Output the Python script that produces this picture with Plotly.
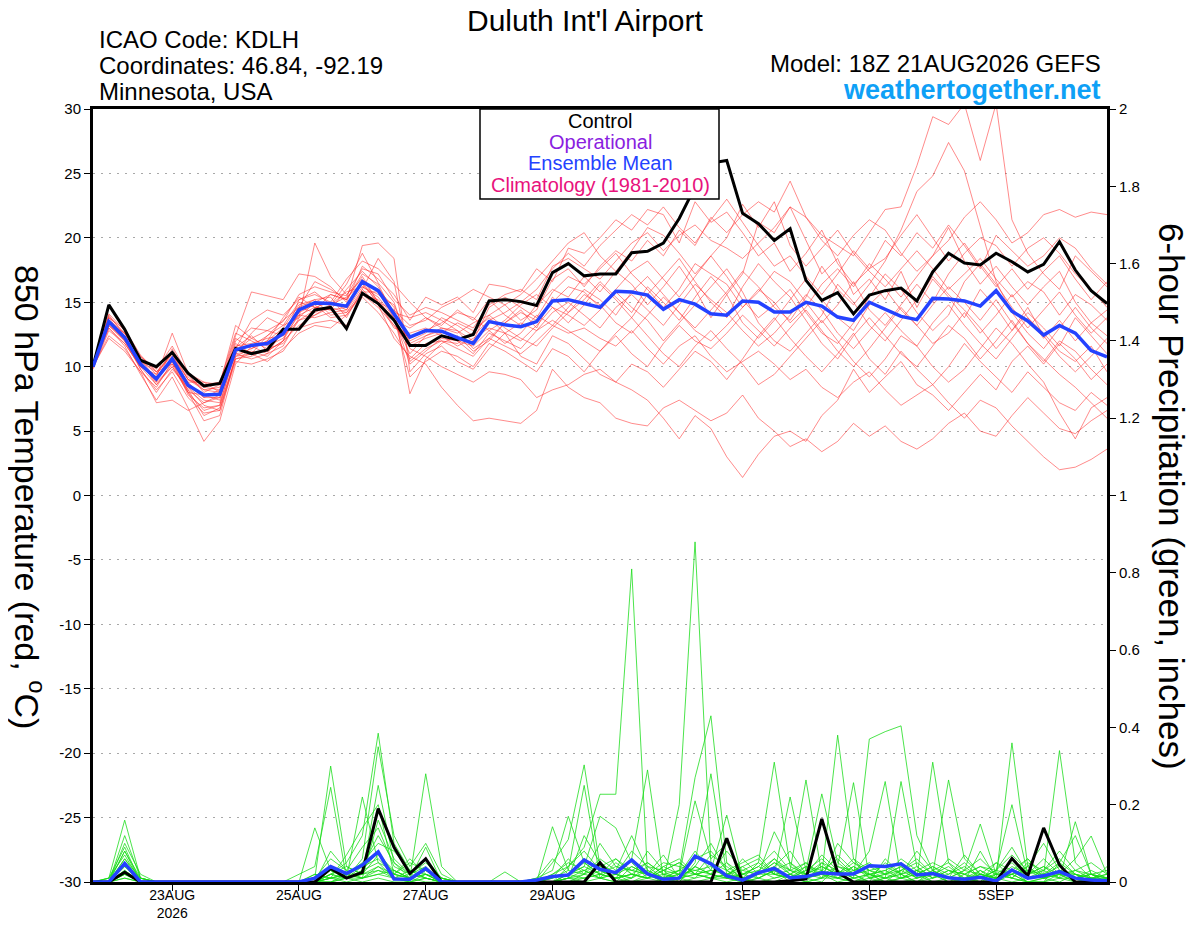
import pandas as pd
import plotly.graph_objects as go

FONT = "Liberation Sans"

# GEFS run 18Z 21AUG2026, 6-hourly steps out to 384 h
run_start = "2026-08-21 18:00"

# 850 hPa temperature (deg C)
mean_temp = [10.0, 13.5, 12.25, 10.2, 9.05, 10.6, 8.55, 7.8, 7.85, 11.3,
             11.65, 11.8, 12.55, 14.4, 14.95, 14.9, 14.7, 16.6, 15.9, 14.1,
             12.3, 12.8, 12.75, 12.25, 11.8, 13.5, 13.25, 13.1, 13.5, 15.1,
             15.2, 14.9, 14.6, 15.85, 15.8, 15.55, 14.45, 15.2, 14.85, 14.1,
             14.0, 15.1, 15.0, 14.25, 14.25, 15.0, 14.7, 13.85, 13.6, 15.0,
             14.45, 13.9, 13.65, 15.3, 15.25, 15.1, 14.7, 15.9, 14.3, 13.55,
             12.45, 13.2, 12.6, 11.25, 10.75]
ctrl_temp = [10.0, 14.8, 12.9, 10.5, 10.0, 11.1, 9.5, 8.5, 8.7, 11.4,
             11.0, 11.3, 12.9, 12.9, 14.4, 14.6, 12.95, 15.7, 14.9, 13.6,
             11.65, 11.65, 12.4, 12.1, 12.5, 15.1, 15.2, 15.05, 14.75, 17.3,
             18.0, 17.05, 17.2, 17.2, 18.85, 18.95, 19.6, 21.5, 23.95, 25.8,
             26.0, 21.9, 21.1, 19.8, 20.7, 16.7, 15.15, 15.75, 14.1, 15.55,
             15.9, 16.1, 15.1, 17.35, 18.8, 18.05, 17.9, 18.8, 18.15, 17.35,
             17.95, 19.7, 17.5, 15.9, 14.9]

t01 = [10, 13.9, 12.6, 10.6, 9.4, 11.2, 9.0, 8.4, 8.2, 12.0,
       13.0, 12.8, 13.5, 15.6, 16.2, 15.8, 15.5, 17.6, 17.2, 15.2,
       14.0, 14.6, 14.2, 13.6, 13.0, 14.8, 15.6, 16.0, 15.2, 17.8,
       18.4, 17.6, 16.8, 18.2, 19.6, 20.4, 19.0, 20.2, 21.0, 19.8,
       19.2, 18.4, 19.6, 20.8, 22.4, 21.6, 20.2, 19.4, 18.6, 20.4,
       22.2, 22.4, 25.6, 29.4, 28.8, 30.4, 26.0, 30.4, 21.4, 18.8,
       17.2, 16.0, 18.6, 17.4, 16.2]
t02 = [10, 13.2, 12.0, 9.8, 8.2, 9.6, 7.6, 6.4, 6.6, 10.4,
       10.2, 10.6, 11.2, 13.0, 13.4, 13.6, 13.2, 15.4, 14.2, 12.6,
       10.6, 11.8, 12.0, 11.4, 10.8, 12.2, 11.6, 11.0, 12.0, 13.2,
       12.6, 13.0, 12.2, 11.6, 12.8, 11.4, 10.2, 11.6, 12.4, 10.8,
       9.6, 10.4, 11.2, 10.2, 9.0, 9.8, 8.4, 7.6, 8.8, 9.6,
       8.2, 7.0, 7.8, 8.6, 7.2, 6.0, 7.4, 6.8, 5.4, 4.2,
       3.0, 2.0, 2.2, 2.8, 3.6]
t03 = [9.8, 12.8, 11.8, 10.0, 9.2, 12.6, 9.5, 8.8, 8.0, 11.5,
       12.4, 11.2, 12.0, 15.2, 15.8, 14.8, 16.4, 18.8, 16.5, 15.0,
       11.4, 10.8, 10.0, 9.4, 8.8, 9.6, 9.4, 9.0, 7.6, 8.2,
       8.6, 9.4, 9.8, 8.8, 8.2, 7.4, 6.0, 4.4, 6.2, 5.2,
       3.0, 1.4, 3.2, 4.6, 5.0, 4.2, 6.2, 7.4, 9.8, 8.0,
       9.2, 10.4, 8.6, 7.8, 6.6, 8.0, 9.4, 8.2, 10.4, 11.6,
       10.2, 11.8, 10.6, 9.0, 10.2]
t04 = [10.2, 14.1, 12.8, 10.4, 8.6, 10.0, 8.0, 5.8, 6.2, 10.8,
       11.0, 12.4, 13.6, 14.6, 15.2, 15.4, 13.8, 16.0, 14.8, 12.2,
       10.8, 10.2, 8.4, 7.0, 5.8, 6.0, 5.8, 5.6, 6.6, 9.8,
       8.4, 7.6, 7.2, 6.0, 5.6, 5.4, 6.8, 7.4, 6.6, 5.8,
       6.4, 7.8, 6.0, 5.0, 3.8, 4.4, 3.4, 4.2, 5.6, 4.6,
       5.4, 4.2, 3.6, 4.4, 5.6, 6.4, 5.0, 4.6, 6.2, 7.6,
       6.4, 5.2, 4.8, 5.8, 6.6]
t05 = [10, 13.6, 12.4, 10.8, 9.8, 11.6, 9.4, 8.0, 8.6, 12.4,
       15.8, 15.5, 15.2, 17.2, 17.0, 16.2, 15.0, 17.8, 16.8, 15.6,
       13.6, 15.4, 14.8, 15.4, 14.2, 16.4, 16.2, 15.8, 17.6, 16.6,
       19.2, 18.8, 20.0, 21.4, 20.6, 22.2, 21.8, 19.6, 22.8, 21.2,
       22.0, 20.4, 18.6, 19.6, 17.4, 18.8, 20.6, 18.0, 16.4, 17.6,
       19.8, 18.6, 20.4, 19.2, 21.0, 19.4, 17.6, 20.2, 19.0, 17.8,
       18.6, 20.0, 19.2, 17.6, 16.4]
t06 = [9.9, 13.0, 11.6, 9.4, 7.4, 9.2, 6.8, 4.2, 5.8, 10.2,
       11.6, 11.0, 12.8, 14.0, 14.6, 15.0, 16.8, 18.2, 17.6, 16.4,
       15.0, 13.8, 13.2, 14.4, 13.6, 15.2, 14.0, 13.2, 14.8, 16.0,
       15.4, 17.0, 15.8, 17.4, 16.4, 14.8, 16.2, 17.8, 16.0, 13.8,
       15.6, 17.2, 21.2, 20.4, 22.4, 19.8, 17.2, 18.4, 15.6, 16.8,
       15.2, 17.4, 14.6, 16.8, 15.4, 13.8, 16.0, 14.6, 12.8, 14.2,
       13.0, 11.6, 13.8, 12.4, 11.0]
t07 = [10.1, 13.4, 12.2, 10.2, 9.0, 10.8, 8.4, 7.4, 7.2, 11.0,
       12.6, 13.8, 13.2, 13.8, 19.6, 17.0, 15.6, 16.8, 15.0, 13.0,
       12.6, 13.0, 12.4, 11.6, 12.2, 13.0, 12.6, 12.0, 13.2, 14.6,
       14.0, 13.2, 14.4, 15.8, 14.6, 13.6, 12.0, 13.4, 14.8, 16.2,
       17.6, 15.8, 13.4, 12.0, 11.2, 12.6, 14.0, 16.4, 15.0, 13.2,
       12.0, 13.6, 15.2, 17.0, 15.6, 14.4, 13.0, 11.4, 12.8, 14.6,
       12.4, 10.8, 9.6, 10.8, 12.2]
t08 = [10, 13.8, 12.9, 10.9, 9.6, 10.2, 8.8, 8.8, 8.6, 13.2,
       12.2, 11.6, 12.2, 14.0, 13.8, 14.2, 14.4, 16.2, 15.6, 14.8,
       11.8, 12.4, 13.0, 12.8, 11.4, 12.2, 13.4, 14.2, 13.6, 15.0,
       16.2, 15.8, 14.6, 16.0, 17.4, 18.2, 16.8, 15.4, 17.0, 18.6,
       17.0, 15.2, 13.8, 14.8, 16.0, 14.2, 12.6, 11.8, 13.4, 15.4,
       17.2, 16.0, 14.2, 12.8, 14.0, 16.6, 18.0, 16.4, 14.6, 13.0,
       14.4, 15.8, 14.0, 12.6, 13.8]
t09 = [10, 12.4, 11.4, 9.6, 8.4, 10.4, 7.8, 6.8, 7.0, 10.6,
       10.8, 11.4, 11.8, 13.6, 14.4, 15.6, 15.2, 19.4, 19.6, 18.4,
       9.6, 11.0, 11.6, 10.4, 9.8, 11.4, 12.6, 10.8, 10.2, 12.4,
       11.8, 10.6, 9.4, 8.8, 10.2, 9.6, 8.4, 9.8, 11.2, 10.4,
       9.0, 10.6, 12.4, 13.8, 12.2, 10.8, 9.6, 11.0, 12.6, 10.6,
       9.4, 11.2, 9.8, 8.6, 10.0, 11.8, 10.4, 9.2, 8.0, 9.6,
       8.4, 7.2, 6.6, 8.0, 7.0]
t10 = [10, 13.2, 12.0, 10.4, 9.6, 11.0, 8.6, 7.6, 8.2, 11.8,
       11.0, 10.4, 11.4, 12.6, 13.2, 13.0, 14.0, 15.6, 14.6, 13.2,
       12.2, 12.8, 13.4, 14.2, 13.8, 12.8, 13.6, 14.8, 15.6, 14.6,
       13.4, 14.8, 16.4, 15.2, 13.8, 15.6, 17.0, 18.4, 16.6, 15.0,
       13.8, 16.2, 18.0, 16.6, 15.4, 13.6, 11.8, 10.6, 12.4, 13.8,
       12.4, 11.0, 10.0, 11.6, 13.2, 12.2, 10.6, 12.0, 13.6, 11.8,
       10.4, 12.0, 11.2, 9.8, 8.6]
t11 = [10, 13.6, 12.6, 10.6, 9.0, 10.4, 8.2, 7.2, 7.6, 11.2,
       12.2, 12.8, 12.4, 14.6, 16.6, 16.0, 15.2, 17.0, 15.0, 14.4,
       13.2, 13.6, 14.6, 15.2, 16.0, 15.4, 14.8, 15.6, 16.8, 18.2,
       19.6, 20.4, 18.6, 17.4, 19.0, 20.8, 20.2, 18.8, 17.2, 18.6,
       20.0, 22.6, 20.8, 22.8, 19.4, 17.8, 19.2, 20.6, 18.8, 17.4,
       16.2, 17.6, 19.0, 17.6, 16.0, 17.2, 18.4, 16.8, 15.4, 16.6,
       15.8, 14.0, 15.6, 14.8, 13.6]
t12 = [10, 14.0, 12.4, 9.8, 8.0, 9.8, 8.4, 7.0, 6.6, 10.8,
       11.4, 12.0, 13.0, 14.8, 15.2, 14.0, 14.2, 16.0, 18.4, 16.6,
       10.4, 11.4, 12.0, 11.8, 12.6, 14.0, 13.0, 12.2, 11.6, 13.0,
       14.2, 15.6, 14.8, 13.4, 12.6, 14.0, 15.4, 14.2, 12.8, 12.0,
       13.2, 14.6, 16.0, 15.0, 13.4, 14.6, 16.4, 17.6, 16.2, 18.0,
       16.8, 15.4, 17.0, 18.6, 20.8, 18.2, 16.4, 17.8, 16.2, 14.8,
       16.2, 17.4, 15.0, 13.4, 14.4]
t13 = [10, 13.0, 11.8, 10.0, 9.2, 10.6, 8.0, 7.8, 7.4, 11.6,
       11.8, 12.2, 12.4, 13.6, 14.0, 14.6, 14.2, 15.6, 15.2, 13.6,
       11.0, 12.4, 12.8, 12.0, 11.0, 12.6, 12.0, 11.4, 12.8, 13.6,
       12.8, 12.0, 11.2, 12.6, 13.8, 12.4, 11.0, 10.0, 11.6, 12.8,
       11.4, 10.2, 8.6, 9.4, 10.8, 12.2, 13.6, 12.0, 10.4, 9.2,
       10.6, 12.4, 11.6, 10.0, 8.8, 9.8, 11.4, 13.0, 11.8, 10.2,
       8.8, 6.4, 4.4, 6.8, 7.6]
t14 = [10, 13.8, 12.2, 10.4, 8.8, 11.4, 9.2, 8.2, 8.4, 12.2,
       11.4, 12.0, 13.8, 15.4, 14.6, 14.4, 16.0, 17.4, 16.2, 14.2,
       13.8, 14.2, 13.6, 12.8, 12.0, 14.6, 15.4, 14.6, 13.8, 15.8,
       17.0, 16.4, 17.6, 18.8, 17.2, 16.0, 14.6, 16.0, 18.0, 17.2,
       16.4, 14.6, 15.8, 17.4, 16.6, 15.0, 13.4, 14.8, 16.6, 14.4,
       13.2, 14.8, 16.4, 15.0, 17.2, 18.8, 20.0, 19.4, 17.8, 19.2,
       20.0, 18.8, 17.2, 16.0, 14.6]
t15 = [10, 12.2, 11.2, 9.6, 7.2, 7.4, 6.6, 7.2, 7.8, 11.0,
       11.2, 10.8, 12.0, 13.2, 14.0, 14.8, 15.8, 16.2, 15.4, 13.8,
       9.2, 10.4, 11.2, 10.8, 10.0, 11.8, 11.2, 10.4, 9.6, 11.4,
       10.8, 9.6, 11.2, 12.4, 11.0, 10.0, 11.8, 13.2, 12.0, 11.4,
       12.6, 14.0, 12.8, 11.6, 13.0, 14.4, 12.8, 11.2, 10.0, 11.4,
       13.0, 14.6, 13.2, 11.8, 12.6, 14.2, 12.6, 14.0, 15.6, 13.8,
       12.2, 13.6, 12.0, 13.4, 12.4]
t16 = [10, 13.4, 12.0, 10.0, 8.6, 10.2, 8.0, 6.6, 7.0, 11.4,
       13.6, 14.4, 14.0, 15.2, 15.6, 15.0, 14.4, 16.6, 14.8, 13.6,
       13.0, 13.8, 13.0, 12.6, 13.4, 14.0, 14.8, 13.6, 14.4, 16.8,
       17.6, 16.2, 17.8, 19.0, 18.2, 19.8, 18.6, 20.6, 19.4, 21.6,
       20.4, 21.8, 22.8, 22.0, 24.4, 21.6, 19.8, 18.6, 20.2, 21.4,
       20.6, 18.8, 17.4, 18.6, 19.8, 21.6, 22.8, 21.4, 19.6, 20.4,
       21.8, 22.2, 21.6, 22.0, 21.8]
t17 = [10, 13.6, 12.2, 10.0, 9.4, 11.0, 9.0, 8.2, 8.0, 11.0,
       10.6, 11.0, 11.6, 13.8, 15.0, 15.6, 15.2, 17.2, 16.4, 14.0,
       12.0, 12.6, 13.8, 13.2, 12.4, 13.6, 14.2, 15.0, 16.0, 17.6,
       18.8, 17.8, 19.4, 20.6, 21.8, 21.0, 22.4, 20.8, 19.6, 21.4,
       23.0, 21.2, 19.4, 17.8, 18.6, 17.0, 15.6, 17.2, 19.0, 17.6,
       18.4, 20.2, 21.8, 20.0, 18.2, 19.6, 17.8, 16.2, 17.6, 16.0,
       17.4, 18.6, 16.8, 15.2, 16.6]
t18 = [10, 13.2, 12.2, 10.2, 8.8, 10.0, 8.2, 6.2, 6.8, 10.6,
       11.0, 11.2, 12.0, 14.2, 14.8, 13.8, 14.0, 15.8, 15.8, 13.8,
       10.2, 11.2, 12.2, 12.0, 11.6, 12.8, 11.8, 12.6, 14.0, 13.2,
       14.6, 16.0, 15.2, 14.0, 15.8, 17.0, 15.6, 14.2, 13.0, 14.4,
       15.8, 17.4, 16.2, 14.6, 13.6, 15.4, 17.8, 16.0, 14.8, 16.4,
       18.2, 20.6, 23.6, 24.8, 27.4, 25.2, 21.0, 16.6, 14.2, 12.6,
       11.4, 13.0, 14.6, 13.0, 11.8]
t19 = [10, 13.4, 12.6, 10.8, 9.6, 10.8, 9.0, 8.6, 8.8, 12.6,
       12.0, 11.4, 12.6, 14.6, 14.2, 14.8, 15.4, 16.4, 15.0, 13.2,
       11.6, 12.2, 12.6, 13.4, 12.8, 13.8, 12.6, 13.4, 12.8, 14.2,
       15.0, 14.0, 13.0, 14.6, 15.6, 14.4, 13.2, 14.8, 16.4, 15.2,
       14.2, 12.8, 11.6, 12.6, 14.0, 15.6, 14.4, 12.6, 11.4, 12.8,
       14.2, 12.8, 11.6, 13.4, 14.8, 13.2, 11.8, 10.6, 12.2, 13.8,
       12.6, 11.2, 10.4, 11.6, 9.6]
t20 = [10, 13.6, 12.4, 10.2, 9.2, 10.6, 8.8, 7.6, 7.6, 11.4,
       11.6, 12.4, 13.2, 15.0, 14.6, 14.4, 14.6, 16.6, 16.0, 14.6,
       7.9, 10.6, 11.8, 12.4, 11.2, 12.0, 13.4, 14.4, 13.0, 15.4,
       14.2, 15.2, 16.6, 15.4, 14.2, 16.2, 15.0, 13.6, 15.4, 17.0,
       15.6, 13.4, 12.2, 13.6, 15.2, 16.8, 15.2, 13.8, 12.8, 14.8,
       16.0, 14.4, 13.2, 14.8, 16.2, 15.0, 13.6, 15.2, 13.4, 11.8,
       10.6, 9.4, 8.4, 7.2, 6.0]

# 6-hour precipitation (inches)
mean_precip = [0, 0, 0.048, 0, 0, 0, 0, 0, 0, 0,
               0, 0, 0, 0, 0.01, 0.04, 0.022, 0.044, 0.078, 0.008,
               0.007, 0.035, 0, 0, 0, 0, 0, 0, 0.005, 0.014,
               0.018, 0.057, 0.033, 0.024, 0.057, 0.021, 0.007, 0.01, 0.067, 0.047,
               0.016, 0.005, 0.024, 0.035, 0.011, 0.014, 0.024, 0.021, 0.021, 0.042,
               0.04, 0.047, 0.018, 0.022, 0.011, 0.007, 0.012, 0.003, 0.031, 0.01,
               0.016, 0.027, 0.01, 0.005, 0.003]
ctrl_precip = [0, 0, 0.025, 0, 0, 0, 0, 0, 0, 0,
               0, 0, 0, 0, 0, 0.035, 0.01, 0.025, 0.19, 0.09,
               0.022, 0.06, 0, 0, 0, 0, 0, 0, 0, 0,
               0, 0, 0.05, 0, 0, 0, 0, 0, 0, 0,
               0.113, 0, 0, 0, 0.003, 0.008, 0.163, 0.024, 0, 0,
               0, 0, 0, 0, 0, 0, 0, 0, 0.061, 0.016,
               0.14, 0.044, 0, 0, 0]

p01 = [0, 0.01, 0.16, 0.01, 0, 0, 0, 0, 0, 0,
       0, 0, 0, 0, 0.01, 0.06, 0.03, 0.09, 0.14, 0.04,
       0.02, 0.06, 0.01, 0, 0, 0, 0, 0, 0, 0.02,
       0.05, 0.03, 0.01, 0, 0.04, 0.02, 0, 0.2, 0.88, 0.05,
       0.01, 0, 0.03, 0.06, 0.02, 0, 0.05, 0.01, 0, 0.02,
       0, 0.01, 0.03, 0, 0, 0.02, 0, 0.05, 0.01, 0,
       0, 0.02, 0, 0, 0.01]
p02 = [0, 0, 0.12, 0.01, 0, 0, 0, 0, 0, 0,
       0, 0, 0, 0, 0, 0.02, 0.05, 0.12, 0.385, 0.1,
       0.03, 0.02, 0, 0, 0, 0, 0, 0, 0, 0,
       0.04, 0.09, 0.227, 0.227, 0.81, 0.02, 0, 0, 0.04, 0.1,
       0.03, 0, 0.02, 0.13, 0.05, 0.01, 0, 0.04, 0.02, 0,
       0.06, 0.02, 0, 0.03, 0, 0, 0.08, 0.01, 0.03, 0,
       0, 0.05, 0.02, 0, 0]
p03 = [0, 0, 0.1, 0.02, 0, 0, 0, 0, 0, 0,
       0, 0, 0, 0, 0.14, 0.03, 0.01, 0.06, 0.35, 0.12,
       0.04, 0.1, 0.02, 0, 0, 0, 0, 0, 0.01, 0.03,
       0.17, 0.05, 0.02, 0.01, 0.06, 0.29, 0.01, 0.03, 0.27, 0.43,
       0.05, 0, 0.01, 0.03, 0.01, 0.04, 0.02, 0.38, 0.06, 0.01,
       0, 0.03, 0.06, 0.02, 0, 0, 0.03, 0, 0.02, 0.06,
       0.02, 0.34, 0.05, 0.01, 0]
p04 = [0, 0.01, 0.09, 0, 0, 0, 0, 0, 0, 0,
       0, 0, 0, 0, 0.01, 0.3, 0.04, 0.02, 0.25, 0.05,
       0.01, 0.28, 0.04, 0, 0, 0, 0, 0, 0, 0.05,
       0.11, 0.303, 0.04, 0.02, 0.01, 0.08, 0.03, 0, 0.05, 0.28,
       0.02, 0.01, 0.05, 0.31, 0.04, 0.02, 0.07, 0.03, 0.01, 0.37,
       0.389, 0.404, 0.12, 0.03, 0.01, 0, 0.02, 0.01, 0.36, 0.04,
       0.01, 0.03, 0.02, 0, 0.04]
p05 = [0, 0, 0.08, 0.01, 0, 0, 0, 0, 0, 0,
       0, 0, 0, 0.02, 0.04, 0.245, 0.01, 0.22, 0.05, 0.03,
       0.01, 0.09, 0, 0, 0, 0, 0.026, 0, 0, 0.143,
       0.03, 0.25, 0.01, 0.05, 0.02, 0.01, 0.04, 0.06, 0.02, 0.03,
       0.173, 0.01, 0.02, 0.05, 0.03, 0.264, 0.02, 0.04, 0.257, 0.01,
       0.02, 0.04, 0.01, 0.31, 0.05, 0, 0.01, 0.03, 0.2, 0.02,
       0.04, 0.01, 0.156, 0.02, 0]
p06 = [0, 0, 0.08, 0, 0, 0, 0, 0, 0, 0,
       0, 0, 0, 0, 0.02, 0.01, 0.07, 0.14, 0.2, 0.02,
       0.06, 0.02, 0.01, 0, 0, 0, 0, 0, 0.01, 0.06,
       0.02, 0.04, 0.17, 0.14, 0.05, 0.01, 0.03, 0.02, 0.21, 0.06,
       0.1, 0.02, 0.04, 0.02, 0.22, 0.03, 0.228, 0.05, 0.02, 0.08,
       0.26, 0.01, 0.03, 0.02, 0.264, 0.06, 0.02, 0.01, 0.03, 0.06,
       0.01, 0.02, 0.06, 0.119, 0.02]
p07 = [0, 0.01, 0.07, 0, 0, 0, 0, 0, 0, 0,
       0, 0, 0, 0, 0, 0.08, 0.03, 0.01, 0.16, 0.06,
       0.02, 0.04, 0, 0, 0, 0, 0, 0, 0, 0.01,
       0.06, 0.02, 0.1, 0.04, 0.03, 0.02, 0.07, 0.01, 0.04, 0.02,
       0.01, 0.06, 0.02, 0.04, 0.08, 0.02, 0.01, 0.1, 0.05, 0.02,
       0.01, 0.26, 0.04, 0.01, 0.06, 0.03, 0.15, 0.02, 0.05, 0.01,
       0.03, 0.08, 0.03, 0.05, 0.02]
p08 = [0, 0, 0.06, 0, 0, 0, 0, 0, 0, 0,
       0, 0, 0, 0, 0, 0.01, 0.02, 0.05, 0.1, 0.08,
       0.03, 0.01, 0, 0, 0, 0, 0, 0, 0, 0.02,
       0.04, 0.08, 0.03, 0.01, 0.02, 0.05, 0.02, 0.03, 0.06, 0.08,
       0.03, 0.05, 0.07, 0.02, 0.01, 0.03, 0.06, 0.02, 0.04, 0.01,
       0.05, 0.02, 0.08, 0.03, 0.01, 0.07, 0.02, 0.01, 0.04, 0.02,
       0.06, 0.02, 0.01, 0.03, 0.01]
p09 = [0, 0, 0.06, 0.01, 0, 0, 0, 0, 0, 0,
       0, 0, 0, 0, 0.01, 0.03, 0.01, 0.03, 0.08, 0.02,
       0.05, 0.03, 0.01, 0, 0, 0, 0, 0, 0, 0,
       0.01, 0.12, 0.05, 0.02, 0.08, 0.04, 0.01, 0.03, 0.02, 0.07,
       0.04, 0.01, 0.02, 0.06, 0.03, 0.01, 0.02, 0.07, 0.03, 0.05,
       0.02, 0.06, 0.03, 0.01, 0.02, 0.04, 0.01, 0.03, 0.07, 0.03,
       0.02, 0.05, 0.12, 0.02, 0.03]
p10 = [0, 0, 0.05, 0, 0, 0, 0, 0, 0, 0,
       0, 0, 0, 0, 0, 0.02, 0.04, 0.02, 0.07, 0.03,
       0.01, 0.02, 0, 0, 0, 0, 0, 0, 0, 0.01,
       0.03, 0.02, 0.06, 0.03, 0.12, 0.03, 0.01, 0.02, 0.08, 0.03,
       0.02, 0.04, 0.01, 0.03, 0.05, 0.02, 0.04, 0.02, 0.06, 0.03,
       0.01, 0.03, 0.05, 0.02, 0.01, 0.03, 0.06, 0.02, 0.01, 0.04,
       0.1, 0.03, 0.01, 0.02, 0]
p11 = [0, 0, 0.05, 0, 0, 0, 0, 0, 0, 0,
       0, 0, 0, 0, 0, 0.01, 0.01, 0.04, 0.12, 0.05,
       0.02, 0.05, 0.01, 0, 0, 0, 0, 0, 0, 0,
       0.02, 0.05, 0.02, 0.04, 0.03, 0.02, 0.05, 0.04, 0.03, 0.02,
       0.08, 0.03, 0.02, 0.05, 0.02, 0.04, 0.03, 0.06, 0.02, 0.03,
       0.04, 0.02, 0.03, 0.05, 0.03, 0.02, 0.04, 0.03, 0.09, 0.02,
       0.03, 0.01, 0.03, 0.02, 0.01]
p12 = [0, 0, 0.04, 0, 0, 0, 0, 0, 0, 0,
       0, 0, 0, 0, 0, 0.02, 0.01, 0.03, 0.05, 0.01,
       0.02, 0.01, 0, 0, 0, 0, 0, 0, 0, 0,
       0.01, 0.02, 0.04, 0.06, 0.02, 0.01, 0.03, 0.05, 0.02, 0.01,
       0.02, 0.03, 0.05, 0.02, 0.01, 0.02, 0.05, 0.03, 0.01, 0.02,
       0.03, 0.01, 0.02, 0.04, 0.02, 0.05, 0.01, 0.02, 0.03, 0.01,
       0.02, 0.04, 0.01, 0.02, 0.01]
p13 = [0, 0, 0.04, 0.01, 0, 0, 0, 0, 0, 0,
       0, 0, 0, 0, 0, 0.01, 0.02, 0.01, 0.04, 0.02,
       0.01, 0.03, 0, 0, 0, 0, 0, 0, 0, 0,
       0.02, 0.03, 0.01, 0.02, 0.04, 0.02, 0.01, 0.02, 0.03, 0.04,
       0.01, 0.02, 0.03, 0.01, 0.02, 0.05, 0.02, 0.01, 0.03, 0.04,
       0.02, 0.03, 0.01, 0.02, 0.04, 0.01, 0.02, 0.01, 0.02, 0.03,
       0.01, 0.02, 0.02, 0.01, 0]
p14 = [0, 0, 0.03, 0, 0, 0, 0, 0, 0, 0,
       0, 0, 0, 0, 0, 0, 0.01, 0.02, 0.03, 0.01,
       0, 0.02, 0, 0, 0, 0, 0, 0, 0, 0,
       0.01, 0.01, 0.02, 0.01, 0.02, 0.01, 0, 0.01, 0.02, 0.01,
       0, 0.01, 0.02, 0.02, 0.01, 0, 0.01, 0.03, 0.01, 0,
       0.01, 0.02, 0, 0.01, 0.03, 0.01, 0, 0.01, 0.02, 0,
       0.01, 0, 0.02, 0.01, 0]
p15 = [0, 0, 0.03, 0, 0, 0, 0, 0, 0, 0,
       0, 0, 0, 0, 0, 0.01, 0, 0.01, 0.02, 0.03,
       0.01, 0, 0, 0, 0, 0, 0, 0, 0, 0,
       0, 0.02, 0.01, 0, 0.01, 0.03, 0.01, 0, 0.01, 0.02,
       0.01, 0, 0.01, 0.03, 0, 0.01, 0.02, 0, 0.01, 0.02,
       0, 0.01, 0.02, 0, 0.01, 0, 0.02, 0.01, 0, 0.01,
       0.02, 0.01, 0, 0.01, 0.01]
p16 = [0, 0, 0.02, 0, 0, 0, 0, 0, 0, 0,
       0, 0, 0, 0, 0, 0, 0.01, 0, 0.01, 0,
       0, 0.01, 0, 0, 0, 0, 0, 0, 0, 0,
       0.01, 0, 0.01, 0.02, 0, 0.01, 0.02, 0.01, 0, 0.01,
       0.02, 0.01, 0, 0.01, 0.02, 0, 0.01, 0.01, 0.02, 0,
       0.01, 0, 0.01, 0.02, 0, 0.01, 0, 0.02, 0.01, 0,
       0, 0.01, 0.01, 0, 0]
p17 = [0, 0, 0.02, 0, 0, 0, 0, 0, 0, 0,
       0, 0, 0, 0, 0.02, 0.01, 0.02, 0.04, 0.06, 0.02,
       0.01, 0.03, 0.01, 0, 0, 0, 0, 0, 0, 0.01,
       0.02, 0.04, 0.02, 0.06, 0.03, 0.05, 0.02, 0.01, 0.04, 0.02,
       0.05, 0.02, 0.04, 0.08, 0.03, 0.02, 0.04, 0.02, 0.05, 0.03,
       0.02, 0.04, 0.01, 0.03, 0.05, 0.02, 0.04, 0.02, 0.01, 0.05,
       0.03, 0.06, 0.02, 0.01, 0.02]
p18 = [0, 0, 0.02, 0, 0, 0, 0, 0, 0, 0,
       0, 0, 0, 0, 0, 0.03, 0.01, 0.02, 0.04, 0.01,
       0.03, 0.01, 0, 0, 0, 0, 0, 0, 0, 0,
       0.01, 0.03, 0.05, 0.02, 0.01, 0.04, 0.03, 0.05, 0.02, 0.03,
       0.02, 0.04, 0.06, 0.02, 0.03, 0.05, 0.01, 0.04, 0.03, 0.02,
       0.03, 0.05, 0.02, 0.04, 0.01, 0.03, 0.02, 0.05, 0.03, 0.02,
       0.04, 0.02, 0.03, 0.01, 0.02]
p19 = [0, 0, 0.01, 0, 0, 0, 0, 0, 0, 0,
       0, 0, 0, 0, 0, 0.02, 0.01, 0.01, 0.03, 0.02,
       0.01, 0.02, 0, 0, 0, 0, 0, 0, 0, 0,
       0.02, 0.01, 0.03, 0.01, 0.02, 0.01, 0.04, 0.02, 0.01, 0.05,
       0.03, 0.01, 0.02, 0.04, 0.01, 0.03, 0.02, 0.01, 0.04, 0.02,
       0.01, 0.02, 0.04, 0.01, 0.03, 0.02, 0.01, 0.03, 0.02, 0.04,
       0.01, 0.03, 0.01, 0.02, 0.01]
p20 = [0, 0, 0.01, 0, 0, 0, 0, 0, 0, 0,
       0, 0, 0, 0, 0, 0, 0.02, 0.01, 0.02, 0.01,
       0, 0.01, 0, 0, 0, 0, 0, 0, 0, 0,
       0, 0.01, 0.02, 0.01, 0, 0.02, 0.01, 0.01, 0.02, 0.01,
       0.01, 0.02, 0.01, 0, 0.02, 0.01, 0.03, 0.01, 0, 0.01,
       0.02, 0.01, 0, 0.02, 0.01, 0.01, 0.03, 0.01, 0.02, 0,
       0.01, 0.02, 0, 0.01, 0.01]

temp_members = [t01, t02, t03, t04, t05, t06, t07, t08, t09, t10,
                t11, t12, t13, t14, t15, t16, t17, t18, t19, t20]
precip_members = [p01, p02, p03, p04, p05, p06, p07, p08, p09, p10,
                  p11, p12, p13, p14, p15, p16, p17, p18, p19, p20]

tick_dates = ["2026-08-23", "2026-08-25", "2026-08-27", "2026-08-29",
              "2026-09-01", "2026-09-03", "2026-09-05"]
tick_labels = ["23AUG<br>2026", "25AUG", "27AUG", "29AUG", "1SEP", "3SEP", "5SEP"]
temp_ticks = [-30, -25, -20, -15, -10, -5, 0, 5, 10, 15, 20, 25, 30]

times = pd.date_range(run_start, periods=len(mean_temp), freq="6h")

# the page body adds an 8px margin, so the figure is drawn 8px in from the corner
OFF = 8
W, H = 1200 - 2 * OFF, 927 - 2 * OFF
# plot area in page pixels
PL, PR, PT, PB = 93, 1107, 109, 882


def px_x(px):
    return (px - PL) / (PR - PL)


def px_y(py):
    return (PB - py) / (PB - PT)


fig = go.Figure()

for m in temp_members:
    fig.add_trace(go.Scatter(x=times, y=m, mode="lines",
                             line=dict(color="rgba(255,40,40,0.6)", width=0.9),
                             hoverinfo="skip"))
for m in precip_members:
    fig.add_trace(go.Scatter(x=times, y=m, mode="lines", yaxis="y2",
                             line=dict(color="rgba(20,220,20,0.85)", width=0.9),
                             hoverinfo="skip"))

fig.add_trace(go.Scatter(x=times, y=ctrl_temp, mode="lines", name="Control",
                         line=dict(color="black", width=3)))
fig.add_trace(go.Scatter(x=times, y=mean_temp, mode="lines", name="Ensemble Mean",
                         line=dict(color="#2442ff", width=3.5)))
fig.add_trace(go.Scatter(x=times, y=ctrl_precip, mode="lines", yaxis="y2",
                         line=dict(color="black", width=3)))
fig.add_trace(go.Scatter(x=times, y=mean_precip, mode="lines", yaxis="y2",
                         line=dict(color="#2442ff", width=3.5)))

axis_common = dict(showline=True, linewidth=3, linecolor="black", automargin=False,
                   ticks="outside", ticklen=6, tickwidth=1, tickcolor="black",
                   zeroline=False, tickfont=dict(family=FONT, size=15, color="black"))

fig.update_layout(
    width=W, height=H,
    margin=dict(l=PL - OFF, r=W - (PR - OFF), t=PT - OFF, b=H - (PB - OFF)),
    paper_bgcolor="white", plot_bgcolor="white",
    showlegend=False,
    font=dict(family=FONT, color="black"),
    xaxis=dict(type="date", range=[times[0], times[-1]],
               tickvals=tick_dates, ticktext=tick_labels,
               showgrid=False, mirror=True, **axis_common),
    yaxis=dict(range=[-30, 30], tickvals=temp_ticks,
               ticktext=[str(v) for v in temp_ticks],
               showgrid=True, gridcolor="#a8a8a8", gridwidth=1, griddash="2px,6px",
               **axis_common),
    yaxis2=dict(range=[0, 2], tick0=0, dtick=0.2, overlaying="y", side="right",
                showgrid=False, **axis_common),
)
fig.update_xaxes(tickfont_size=14, ticklabelstandoff=-8)

# legend box
fig.add_shape(type="rect", xref="paper", yref="paper",
              x0=px_x(480), x1=px_x(719), y0=px_y(199), y1=px_y(109),
              fillcolor="white", line=dict(color="black", width=1.5), layer="above")

legend_items = [("Control", "black", 121),
                ("Operational", "#8a1ee0", 142),
                ("Ensemble Mean", "#2442ff", 163),
                ("Climatology (1981-2010)", "#e8127c", 185)]
for txt, col, py in legend_items:
    fig.add_annotation(x=px_x(600), y=px_y(py), xref="paper", yref="paper",
                       text=txt, showarrow=False, xanchor="center", yanchor="middle",
                       font=dict(family=FONT, size=20, color=col))

# header
fig.add_annotation(x=px_x(585), y=px_y(20), xref="paper", yref="paper",
                   text="Duluth Int'l Airport", showarrow=False,
                   xanchor="center", yanchor="middle",
                   font=dict(family=FONT, size=30, color="black"))
for txt, py in [("ICAO Code: KDLH", 40), ("Coordinates: 46.84, -92.19", 66),
                ("Minnesota, USA", 92)]:
    fig.add_annotation(x=px_x(97), y=px_y(py), xref="paper", yref="paper",
                       text=txt, showarrow=False, xanchor="left", yanchor="middle",
                       font=dict(family=FONT, size=24, color="black"))
fig.add_annotation(x=px_x(1103), y=px_y(63), xref="paper", yref="paper",
                   text="Model: 18Z 21AUG2026 GEFS", showarrow=False,
                   xanchor="right", yanchor="middle",
                   font=dict(family=FONT, size=24, color="black"))
fig.add_annotation(x=px_x(1103), y=px_y(90), xref="paper", yref="paper",
                   text="<b>weathertogether.net</b>", showarrow=False,
                   xanchor="right", yanchor="middle",
                   font=dict(family=FONT, size=27, color="#0ea0f6"))

# axis titles, both read top to bottom
fig.add_annotation(x=px_x(30), y=px_y(497), xref="paper", yref="paper",
                   text="850 hPa Temperature (red, <sup>o</sup>C)", showarrow=False,
                   textangle=90, xanchor="center", yanchor="middle",
                   font=dict(family=FONT, size=34, color="black"))
fig.add_annotation(x=px_x(1172), y=px_y(496), xref="paper", yref="paper",
                   text="6-hour Precipitation (green, inches)", showarrow=False,
                   textangle=90, xanchor="center", yanchor="middle",
                   font=dict(family=FONT, size=35, color="black"))

fig.write_html("out.html")
